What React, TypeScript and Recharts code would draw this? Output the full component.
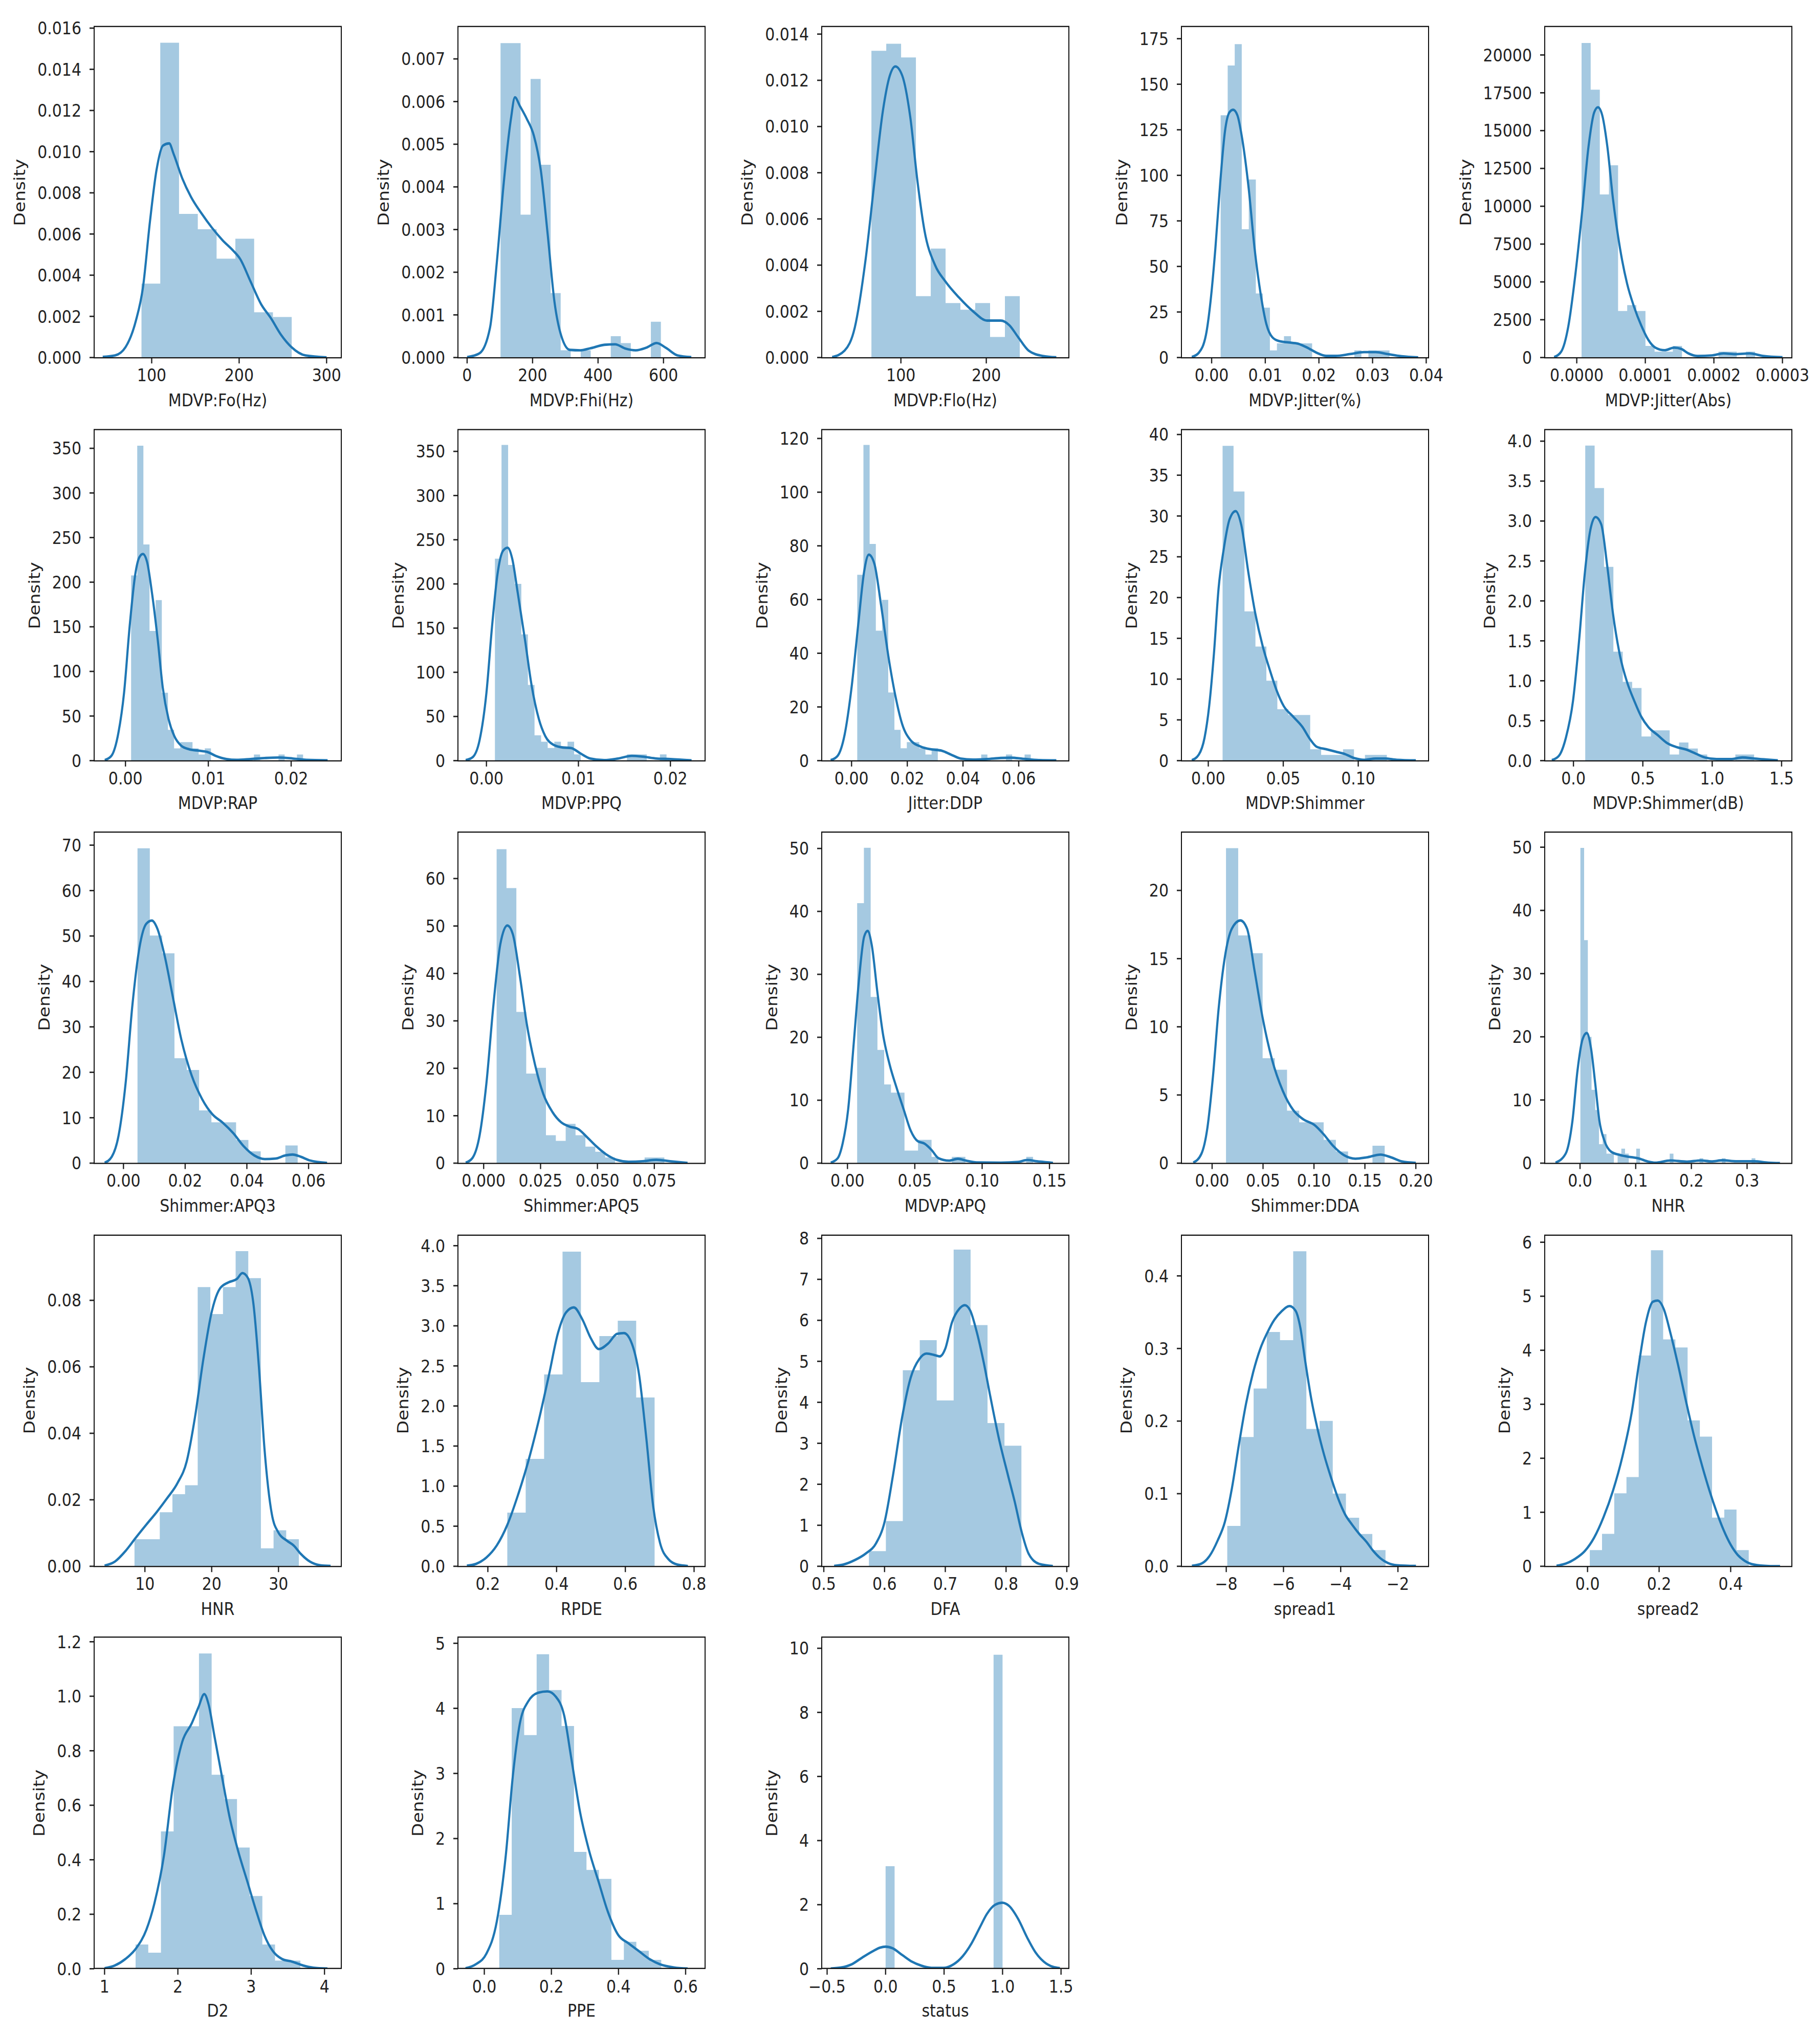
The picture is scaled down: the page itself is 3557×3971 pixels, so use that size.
import React from 'react';
import { ComposedChart, Area, Line, XAxis, YAxis } from 'recharts';

// the reference was stretched vertically; draw at 1/STRETCH height and scale back
const STRETCH = 1.15;
const FIG_W = 3557;
const FIG_H = 3971;
const FONT = '"DejaVu Sans", Verdana, sans-serif';
const BLUE = '#1f77b4';
const TEXT = '#222';

const COL_LEFT = [184, 895, 1606, 2309, 3019];
const ROW_TOP = [52, 840, 1626, 2414, 3200];
const PLOT_W = 483;
const PLOT_H = 647;

// ---- histogram heights (density per bin, equal-width bins between lo and hi) ----
const foBins = [0.00359, 0.01529, 0.00698, 0.00623, 0.0048, 0.00577, 0.0022, 0.00197];
const fhiBins = [0.00737, 0.00737, 0.00335, 0.00653, 0.00452, 0.00151, 0.00017, 0, 0.00017, 0, 0, 0.0005, 0.00034, 0, 0, 0.00084];
const floBins = [0.01328, 0.01358, 0.01299, 0.00266, 0.00472, 0.00236, 0.00207, 0.00236, 0.00089, 0.00266];
const jitBins = [133, 160.3, 172, 70.4, 97.7, 35.2, 27.4, 3.9, 7.8, 11.7, 7.8, 7.8, 7.8, 0, 0, 0, 0, 0, 0, 3.9, 0, 3.9, 3.9, 3.9];
const jitAbsBins = [20790, 17710, 10780, 12705, 3080, 3465, 3080, 770, 385, 385, 770, 0, 0, 0, 0, 385, 385, 0, 385];
const rapBins = [207.6, 352.9, 242.2, 145.3, 179.9, 76.1, 34.6, 13.8, 20.8, 20.8, 13.8, 6.9, 13.8, 0, 0, 0, 0, 0, 0, 0, 6.9, 0, 0, 0, 6.9, 0, 0, 6.9];
const ppqBins = [228.6, 357.3, 221.5, 200.1, 142.9, 85.7, 28.6, 21.4, 14.3, 21.4, 14.3, 21.4, 7.1, 0, 0, 0, 0, 0, 0, 0, 7.1, 7.1, 7.1, 0, 0, 7.1];
const ddpBins = [69.2, 117.6, 80.7, 48.4, 59.9, 25.4, 11.5, 4.6, 6.9, 6.9, 4.6, 2.3, 4.6, 0, 0, 0, 0, 0, 0, 0, 2.3, 0, 0, 0, 2.3, 0, 0, 2.3];
const shimBins = [38.6, 33.0, 18.3, 14.0, 9.8, 6.3, 5.6, 5.6, 1.4, 0.7, 0.7, 1.4, 0, 0.7, 0.7];
const dbBins = [3.944, 3.413, 2.427, 1.365, 0.986, 0.91, 0.303, 0.379, 0.379, 0.076, 0.228, 0.152, 0.076, 0, 0, 0, 0.076, 0.076];
const apq3Bins = [69.3, 50.1, 46.2, 23.1, 20.5, 11.6, 9.0, 9.0, 5.1, 2.6, 0, 0, 3.9];
const apq5Bins = [66.2, 58.0, 31.9, 18.9, 20.1, 5.9, 4.7, 8.3, 5.9, 3.5, 2.4, 1.2, 0, 0, 0, 1.2, 1.2];
const apqBins = [41.3, 50.1, 26.4, 18.0, 12.5, 11.2, 11.2, 2.0, 2.0, 3.7, 3.7, 1.0, 0, 0, 1.0, 1.0, 0, 0, 0, 0, 0, 0, 0, 0, 0, 1.0];
const ddaBins = [23.1, 16.7, 15.4, 7.7, 6.85, 3.85, 3.0, 3.0, 1.71, 0.86, 0, 0, 1.28];
const nhrBins = [
  49.9, 35.3, 20.0, 11.6, 8.4, 3.0, 4.6, 1.5, 1.5, 0, 1.5, 2.3, 1.5, 0, 0, 2.3,
  0, 0, 0, 0, 0, 0, 0, 0, 1.5, 0, 0, 0, 0, 0, 0, 0,
  0.77, 0, 0, 0, 0, 0, 0.77, 0, 0, 0, 0, 0, 0, 0, 0.77,
];
const hnrBins = [0.00813, 0.00813, 0.01625, 0.02167, 0.02438, 0.08398, 0.07585, 0.08398, 0.09482, 0.08669, 0.00542, 0.01084, 0.00813];
const rpdeBins = [0.67, 1.34, 2.393, 3.925, 2.298, 2.872, 3.063, 2.106];
const dfaBins = [0.368, 1.103, 4.781, 5.517, 4.046, 7.724, 5.885, 3.494, 2.942];
const spread1Bins = [0.0556, 0.178, 0.2448, 0.3227, 0.3115, 0.4339, 0.1891, 0.2003, 0.1001, 0.0668, 0.0445, 0.0223];
const spread2Bins = [0.3, 0.6, 1.351, 1.651, 3.902, 5.853, 4.202, 4.052, 2.701, 2.401, 0.9, 1.051, 0.3];
const d2Bins = [0.089, 0.059, 0.504, 0.89, 0.89, 1.157, 0.712, 0.623, 0.445, 0.267, 0.089, 0.03, 0.03];
const ppeBins = [0.828, 4.004, 3.59, 4.832, 4.28, 3.728, 1.795, 1.519, 1.381, 0.138, 0.414, 0.276, 0.138];
const statusBins = [3.2, 0, 0, 0, 0, 0, 0, 0, 0, 0, 0, 0, 9.8];

// ---- KDE curves, [x, density] ----
const foKde = [[44, 0.00003], [58, 0.0001], [70, 0.0005], [82, 0.0018], [90, 0.0034], [98, 0.0066], [105.5, 0.0091], [113, 0.0103], [120, 0.0104], [125, 0.0099], [135, 0.0087], [145, 0.0078], [157, 0.007], [169, 0.0063], [181, 0.0057], [193, 0.0052], [201, 0.0048], [213, 0.0037], [225, 0.0026], [236.5, 0.0019], [248, 0.0011], [260, 0.0005], [276, 0.0001], [300, 0.00001]];
const fhiKde = [[0, 0.00001], [38, 0.0001], [70, 0.0007], [91, 0.00225], [112, 0.0041], [134, 0.0056], [146, 0.0061], [161, 0.0059], [182, 0.0056], [204, 0.0052], [225, 0.0044], [246, 0.0029], [267, 0.0013], [288, 0.0005], [314, 0.00018], [346, 0.00017], [378, 0.00022], [420, 0.0003], [452, 0.00031], [484, 0.00021], [515, 0.00017], [547, 0.00023], [579, 0.00034], [607, 0.00023], [643, 0.00005], [685, 0.00001]];
const floKde = [[19.5, 0.00002], [34, 0.0003], [46, 0.0013], [58.5, 0.0042], [69, 0.0076], [79, 0.0107], [87, 0.0122], [93.5, 0.0126], [101.6, 0.0122], [111, 0.0104], [119.5, 0.0076], [127.6, 0.0055], [140, 0.004], [152, 0.0033], [168, 0.0026], [184.5, 0.002], [201, 0.0016], [217, 0.0016], [227, 0.0014], [237, 0.0009], [249.6, 0.0003], [266, 0.00007], [282, 0.00001]];
const jitKde = [[-0.0037, 0.3], [-0.0024, 2.6], [-0.00105, 12.6], [-0.0002, 31], [0.0007, 60], [0.0016, 96], [0.0025, 124.5], [0.0033, 134.5], [0.004, 136], [0.0048, 133], [0.0057, 120], [0.0069, 93], [0.008, 60], [0.0091, 35.6], [0.0102, 18.4], [0.0113, 11.2], [0.0126, 9], [0.0143, 8.3], [0.0161, 7.6], [0.0178, 5.5], [0.0196, 2.6], [0.0214, 0.9], [0.0231, 0.9], [0.0258, 1.9], [0.0284, 3], [0.0306, 3], [0.0328, 1.9], [0.0354, 0.7], [0.0385, 0.1]];
const jitAbsKde = [[-0.000033, 35], [-0.0000226, 397], [-0.0000124, 2038], [-0.000002, 5492], [0.0000082, 9810], [0.0000172, 13955], [0.0000254, 16200], [0.0000309, 16546], [0.0000371, 16028], [0.0000446, 13955], [0.0000528, 10500], [0.0000631, 7219], [0.0000734, 4888], [0.0000837, 3333], [0.000094, 2124], [0.0001043, 1174], [0.0001146, 656], [0.0001283, 484], [0.0001421, 656], [0.0001524, 570], [0.0001627, 276], [0.0001764, 104], [0.000197, 138], [0.000214, 276], [0.000231, 225], [0.000252, 276], [0.000272, 104], [0.0003, 17]];
const rapKde = [[-0.0025, 0.6], [-0.0017, 5.3], [-0.00084, 31.8], [-0.00017, 76], [0.0005, 150], [0.00118, 208.6], [0.00168, 228], [0.0021, 231.6], [0.0026, 223], [0.0032, 188], [0.0039, 135], [0.0045, 82], [0.0052, 46.6], [0.0059, 27.4], [0.0067, 17], [0.0077, 12.7], [0.0088, 11.2], [0.0099, 9.7], [0.0109, 5.3], [0.0122, 1.8], [0.0134, 0.9], [0.0151, 1.8], [0.0168, 2.9], [0.0185, 3.5], [0.0202, 2.4], [0.0218, 0.9], [0.0244, 0.3]];
const ppqKde = [[-0.00226, 0.6], [-0.0015, 3.9], [-0.00075, 23], [0, 77], [0.0006, 151], [0.0012, 211], [0.0018, 237.5], [0.0023, 241], [0.0028, 228.6], [0.0034, 190], [0.0042, 136], [0.0049, 85.7], [0.0057, 47], [0.0064, 27.7], [0.0073, 17.9], [0.0083, 14.9], [0.0092, 14.3], [0.0102, 8.3], [0.0113, 2.4], [0.0128, 0.6], [0.0143, 2.4], [0.0158, 5.4], [0.017, 4.5], [0.0185, 2.4], [0.02, 1.8], [0.0223, 0.3]];
const ddpKde = [[-0.0075, 0.2], [-0.005, 1.8], [-0.0025, 9.6], [0, 27.2], [0.0025, 51.7], [0.0045, 70.3], [0.0062, 76.7], [0.0082, 73.3], [0.0105, 58.6], [0.0132, 39], [0.0157, 24.3], [0.0182, 13.5], [0.0212, 7.6], [0.0249, 5.2], [0.0286, 4.2], [0.0324, 3.7], [0.0356, 2.3], [0.0391, 0.8], [0.0436, 0.4], [0.0486, 0.6], [0.0535, 1.0], [0.0573, 1.1], [0.0615, 0.7], [0.0672, 0.2], [0.0735, 0.1]];
const shimKde = [[-0.011, 0.06], [-0.0063, 0.74], [-0.0025, 2.8], [0.0006, 6.7], [0.0038, 13.2], [0.0069, 21.2], [0.0101, 25.7], [0.0142, 29.6], [0.0182, 30.6], [0.022, 28.9], [0.0267, 23.1], [0.0314, 18.0], [0.0362, 14.1], [0.0409, 11.2], [0.0456, 8.6], [0.0503, 6.7], [0.0566, 5.4], [0.0629, 4.1], [0.0676, 2.7], [0.0723, 1.7], [0.0786, 1.4], [0.0849, 1.1], [0.0912, 0.8], [0.0975, 0.3], [0.1038, 0.1], [0.1116, 0.26], [0.1179, 0.26], [0.1258, 0.1], [0.1384, 0.03]];
const dbKde = [[-0.156, 0.007], [-0.105, 0.06], [-0.054, 0.29], [-0.003, 0.75], [0.041, 1.51], [0.081, 2.33], [0.122, 2.89], [0.159, 3.05], [0.2, 2.96], [0.244, 2.43], [0.285, 1.84], [0.336, 1.31], [0.387, 0.98], [0.438, 0.75], [0.489, 0.55], [0.54, 0.42], [0.607, 0.32], [0.675, 0.22], [0.743, 0.17], [0.811, 0.14], [0.879, 0.09], [0.947, 0.04], [1.032, 0.02], [1.133, 0.02], [1.218, 0.04], [1.303, 0.026], [1.473, 0.003]];
const apq3Kde = [[-0.0061, 0.1], [-0.0038, 1.4], [-0.0016, 6], [0.0007, 17.6], [0.0029, 34.8], [0.0052, 47.5], [0.0074, 52.7], [0.0092, 53.4], [0.011, 51.6], [0.0133, 45.8], [0.016, 36.6], [0.0187, 27.4], [0.0221, 19.3], [0.0255, 14.1], [0.0289, 10.7], [0.0322, 8.9], [0.0356, 6.6], [0.039, 3.7], [0.0424, 1.7], [0.0458, 0.9], [0.0492, 1.0], [0.0525, 1.7], [0.0548, 1.9], [0.0575, 1.4], [0.0604, 0.6], [0.066, 0.06]];
const apq5Kde = [[-0.0079, 0.1], [-0.0049, 1.1], [-0.0018, 5.8], [0.0012, 16.8], [0.0043, 33.4], [0.0073, 46.1], [0.0104, 50.1], [0.0128, 48.3], [0.0159, 39.5], [0.0189, 29.5], [0.0226, 20.7], [0.0262, 14.6], [0.0302, 10.8], [0.0341, 8.6], [0.0378, 7.7], [0.0415, 7.2], [0.0454, 5.5], [0.0494, 3.6], [0.0537, 1.9], [0.0585, 0.7], [0.0637, 0.3], [0.0698, 0.4], [0.0759, 0.7], [0.082, 0.4], [0.0896, 0.05]];
const apqKde = [[-0.0124, 0.08], [-0.0072, 0.8], [-0.0036, 3.1], [0.0005, 8.5], [0.0046, 18.9], [0.0088, 29.7], [0.0124, 36], [0.015, 36.9], [0.018, 34.7], [0.0222, 27.2], [0.0263, 20.6], [0.0314, 15.6], [0.0366, 11.9], [0.0418, 8.5], [0.0469, 5.2], [0.0521, 3.5], [0.0572, 3.1], [0.0624, 2.1], [0.0675, 0.8], [0.0753, 0.4], [0.082, 0.7], [0.0881, 0.4], [0.0959, 0.12], [0.1139, 0.08], [0.1268, 0.2], [0.1335, 0.5], [0.1407, 0.3], [0.1526, 0.04]];
const ddaKde = [[-0.0185, 0.04], [-0.0106, 0.67], [-0.0046, 2.6], [0.0009, 6.4], [0.0065, 11.4], [0.0125, 15.1], [0.0194, 17.2], [0.0278, 17.8], [0.0343, 17.2], [0.0417, 14.1], [0.0495, 10.7], [0.0588, 7.6], [0.0694, 5.3], [0.0796, 3.9], [0.0898, 3.2], [0.1005, 2.8], [0.1097, 2.1], [0.119, 1.25], [0.1296, 0.58], [0.1407, 0.33], [0.1514, 0.42], [0.1653, 0.63], [0.1759, 0.42], [0.1861, 0.13], [0.2, 0.02]];
const nhrKde = [[-0.044, 0.07], [-0.0258, 1.5], [-0.0136, 6.7], [-0.0045, 14.7], [0.0045, 19.6], [0.0121, 20.6], [0.0197, 18.2], [0.0273, 12.6], [0.0348, 6.7], [0.044, 3.5], [0.056, 1.8], [0.0712, 1.3], [0.0924, 0.94], [0.1045, 0.77], [0.1227, 0.24], [0.1348, 0.07], [0.162, 0.42], [0.192, 0.24], [0.2167, 0.42], [0.236, 0.28], [0.256, 0.45], [0.28, 0.3], [0.3128, 0.3], [0.338, 0.08], [0.359, 0.01]];
const hnrKde = [[3.96, 0.0002], [5.5, 0.0014], [7.1, 0.0046], [8.6, 0.0085], [10.2, 0.0125], [11.8, 0.0164], [13.3, 0.0204], [14.9, 0.0251], [16.25, 0.0315], [17.5, 0.0449], [18.75, 0.0623], [20, 0.0765], [21.25, 0.0836], [22.5, 0.0854], [23.75, 0.0864], [24.6, 0.0882], [25.4, 0.0868], [26.25, 0.0789], [27.1, 0.0591], [27.9, 0.0354], [29, 0.0157], [30, 0.0101], [31.25, 0.0077], [32.3, 0.0062], [33.3, 0.0038], [34.7, 0.0014], [36.25, 0.0003], [37.8, 0.0001]];
const rpdeKde = [[0.139, 0.007], [0.166, 0.03], [0.196, 0.11], [0.226, 0.26], [0.257, 0.52], [0.287, 0.88], [0.317, 1.3], [0.347, 1.8], [0.378, 2.39], [0.404, 2.91], [0.428, 3.17], [0.45, 3.23], [0.475, 3.08], [0.499, 2.85], [0.523, 2.71], [0.55, 2.78], [0.576, 2.9], [0.596, 2.91], [0.616, 2.81], [0.64, 2.39], [0.661, 1.6], [0.681, 0.75], [0.701, 0.29], [0.725, 0.09], [0.752, 0.02], [0.782, 0.003]];
const dfaKde = [[0.517, 0.01], [0.534, 0.05], [0.551, 0.15], [0.569, 0.31], [0.586, 0.56], [0.6, 1.08], [0.614, 2.23], [0.629, 3.64], [0.643, 4.6], [0.657, 5.05], [0.669, 5.19], [0.683, 5.15], [0.691, 5.12], [0.7, 5.31], [0.711, 5.95], [0.723, 6.28], [0.732, 6.37], [0.741, 6.24], [0.751, 5.76], [0.763, 4.99], [0.774, 4.15], [0.788, 3.13], [0.803, 2.23], [0.814, 1.59], [0.826, 0.82], [0.837, 0.31], [0.854, 0.06], [0.877, 0.006]];
const spread1Kde = [[-9.2, 0.0007], [-8.87, 0.0036], [-8.59, 0.0138], [-8.3, 0.0355], [-8.05, 0.0608], [-7.8, 0.1079], [-7.55, 0.1694], [-7.31, 0.2237], [-7.06, 0.2672], [-6.81, 0.2997], [-6.57, 0.3214], [-6.32, 0.3395], [-6.07, 0.3511], [-5.79, 0.3584], [-5.58, 0.3522], [-5.41, 0.3287], [-5.25, 0.2852], [-5.03, 0.2309], [-4.8, 0.1875], [-4.59, 0.1549], [-4.34, 0.1224], [-4.09, 0.0934], [-3.85, 0.0717], [-3.6, 0.0572], [-3.35, 0.0445], [-3.1, 0.0337], [-2.86, 0.021], [-2.61, 0.0109], [-2.36, 0.0047], [-2.03, 0.0014], [-1.37, 0.0004]];
const spread2Kde = [[-0.0868, 0.01], [-0.0605, 0.05], [-0.0342, 0.14], [-0.0079, 0.28], [0.0184, 0.53], [0.0447, 0.91], [0.0711, 1.4], [0.0974, 2.03], [0.1237, 2.86], [0.1434, 3.74], [0.1632, 4.52], [0.1829, 4.9], [0.1961, 4.92], [0.2132, 4.76], [0.2316, 4.32], [0.2526, 3.74], [0.275, 3.06], [0.2974, 2.42], [0.3211, 1.84], [0.3408, 1.4], [0.3605, 1.01], [0.3803, 0.67], [0.4, 0.4], [0.4197, 0.21], [0.4395, 0.1], [0.4658, 0.03], [0.5053, 0.005], [0.538, 0.001]];
const d2Kde = [[1.0, 0.002], [1.14, 0.012], [1.285, 0.036], [1.43, 0.075], [1.57, 0.143], [1.68, 0.24], [1.81, 0.415], [1.93, 0.667], [2.06, 0.833], [2.19, 0.901], [2.28, 0.959], [2.36, 1.008], [2.42, 0.969], [2.5, 0.852], [2.6, 0.707], [2.71, 0.551], [2.82, 0.434], [2.95, 0.318], [3.07, 0.211], [3.18, 0.123], [3.31, 0.06], [3.42, 0.036], [3.56, 0.026], [3.71, 0.012], [3.85, 0.004], [4.04, 0.001]];
const ppeKde = [[-0.056, 0.008], [-0.025, 0.07], [0.006, 0.23], [0.037, 0.72], [0.064, 1.74], [0.085, 2.96], [0.106, 3.77], [0.13, 4.1], [0.161, 4.24], [0.188, 4.26], [0.213, 4.18], [0.238, 3.89], [0.259, 3.24], [0.286, 2.39], [0.312, 1.82], [0.341, 1.33], [0.368, 0.88], [0.399, 0.52], [0.43, 0.39], [0.461, 0.27], [0.492, 0.15], [0.523, 0.07], [0.565, 0.02], [0.606, 0.004]];
const statusKde = [[-0.469, 0.01], [-0.38, 0.04], [-0.29, 0.14], [-0.2, 0.35], [-0.113, 0.54], [-0.047, 0.66], [0, 0.69], [0.059, 0.64], [0.142, 0.43], [0.226, 0.22], [0.303, 0.1], [0.392, 0.03], [0.499, 0.03], [0.582, 0.14], [0.659, 0.39], [0.736, 0.8], [0.807, 1.3], [0.866, 1.71], [0.938, 2.0], [0.997, 2.06], [1.056, 1.96], [1.134, 1.55], [1.211, 0.97], [1.282, 0.51], [1.353, 0.22], [1.43, 0.06], [1.49, 0.02]];

// ---- axis tick values ----
const foXTicks = [100, 200, 300];
const fhiXTicks = [0, 200, 400, 600];
const floXTicks = [100, 200];
const jitXTicks = [0, 0.01, 0.02, 0.03, 0.04];
const jitAbsXTicks = [0, 0.0001, 0.0002, 0.0003];
const rapXTicks = [0, 0.01, 0.02];
const ddpXTicks = [0, 0.02, 0.04, 0.06];
const shimXTicks = [0, 0.05, 0.1];
const dbXTicks = [0, 0.5, 1.0, 1.5];
const apq5XTicks = [0, 0.025, 0.05, 0.075];
const apqXTicks = [0, 0.05, 0.1, 0.15];
const ddaXTicks = [0, 0.05, 0.1, 0.15, 0.2];
const nhrXTicks = [0, 0.1, 0.2, 0.3];
const hnrXTicks = [10, 20, 30];
const rpdeXTicks = [0.2, 0.4, 0.6, 0.8];
const dfaXTicks = [0.5, 0.6, 0.7, 0.8, 0.9];
const spread1XTicks = [-8, -6, -4, -2];
const spread2XTicks = [0, 0.2, 0.4];
const d2XTicks = [1, 2, 3, 4];
const ppeXTicks = [0, 0.2, 0.4, 0.6];
const statusXTicks = [-0.5, 0, 0.5, 1.0, 1.5];

const foYTicks = [0, 0.002, 0.004, 0.006, 0.008, 0.01, 0.012, 0.014, 0.016];
const fhiYTicks = [0, 0.001, 0.002, 0.003, 0.004, 0.005, 0.006, 0.007];
const floYTicks = [0, 0.002, 0.004, 0.006, 0.008, 0.01, 0.012, 0.014];
const jitYTicks = [0, 25, 50, 75, 100, 125, 150, 175];
const jitAbsYTicks = [0, 2500, 5000, 7500, 10000, 12500, 15000, 17500, 20000];
const rapYTicks = [0, 50, 100, 150, 200, 250, 300, 350];
const ddpYTicks = [0, 20, 40, 60, 80, 100, 120];
const shimYTicks = [0, 5, 10, 15, 20, 25, 30, 35, 40];
const halfToFour = [0, 0.5, 1.0, 1.5, 2.0, 2.5, 3.0, 3.5, 4.0];
const tenToSeventy = [0, 10, 20, 30, 40, 50, 60, 70];
const tenToSixty = [0, 10, 20, 30, 40, 50, 60];
const tenToFifty = [0, 10, 20, 30, 40, 50];
const ddaYTicks = [0, 5, 10, 15, 20];
const hnrYTicks = [0, 0.02, 0.04, 0.06, 0.08];
const dfaYTicks = [0, 1, 2, 3, 4, 5, 6, 7, 8];
const spread1YTicks = [0, 0.1, 0.2, 0.3, 0.4];
const spread2YTicks = [0, 1, 2, 3, 4, 5, 6];
const d2YTicks = [0, 0.2, 0.4, 0.6, 0.8, 1.0, 1.2];
const ppeYTicks = [0, 1, 2, 3, 4, 5];
const statusYTicks = [0, 2, 4, 6, 8, 10];

type Panel = {
  label: string;
  xDomain: [number, number];
  xTicks: number[];
  xDec: number;
  yMax: number;
  yTicks: number[];
  yDec: number;
  lo: number;
  hi: number;
  bins: number[];
  kde: number[][];
};

const panels: Panel[] = [
  { label: 'MDVP:Fo(Hz)', xDomain: [34.2, 316.8], xTicks: foXTicks, xDec: 0, yMax: 0.01608, yTicks: foYTicks, yDec: 3, lo: 88.33, hi: 260.11, bins: foBins, kde: foKde },
  { label: 'MDVP:Fhi(Hz)', xDomain: [-28, 727], xTicks: fhiXTicks, xDec: 0, yMax: 0.00776, yTicks: fhiYTicks, yDec: 3, lo: 102.15, hi: 592.03, bins: fhiBins, kde: fhiKde },
  { label: 'MDVP:Flo(Hz)', xDomain: [7.3, 296.7], xTicks: floXTicks, xDec: 0, yMax: 0.01433, yTicks: floYTicks, yDec: 3, lo: 65.48, hi: 239.17, bins: floBins, kde: floKde },
  { label: 'MDVP:Jitter(%)', xDomain: [-0.00563, 0.04044], xTicks: jitXTicks, xDec: 2, yMax: 181.7, yTicks: jitYTicks, yDec: 0, lo: 0.00168, hi: 0.03316, bins: jitBins, kde: jitKde },
  { label: 'MDVP:Jitter(Abs)', xDomain: [-0.0000467, 0.0003137], xTicks: jitAbsXTicks, xDec: 4, yMax: 21883, yTicks: jitAbsYTicks, yDec: 0, lo: 0.000007, hi: 0.00026, bins: jitAbsBins, kde: jitAbsKde },
  { label: 'MDVP:RAP', xDomain: [-0.00378, 0.02605], xTicks: rapXTicks, xDec: 2, yMax: 371, yTicks: rapYTicks, yDec: 0, lo: 0.00068, hi: 0.02144, bins: rapBins, kde: rapKde },
  { label: 'MDVP:PPQ', xDomain: [-0.0031, 0.02377], xTicks: rapXTicks, xDec: 2, yMax: 374.7, yTicks: rapYTicks, yDec: 0, lo: 0.00092, hi: 0.01958, bins: ppqBins, kde: ppqKde },
  { label: 'Jitter:DDP', xDomain: [-0.0107, 0.078], xTicks: ddpXTicks, xDec: 2, yMax: 123.3, yTicks: ddpYTicks, yDec: 0, lo: 0.00204, hi: 0.06433, bins: ddpBins, kde: ddpKde },
  { label: 'MDVP:Shimmer', xDomain: [-0.0179, 0.1469], xTicks: shimXTicks, xDec: 2, yMax: 40.6, yTicks: shimYTicks, yDec: 0, lo: 0.00954, hi: 0.11908, bins: shimBins, kde: shimKde },
  { label: 'MDVP:Shimmer(dB)', xDomain: [-0.207, 1.574], xTicks: dbXTicks, xDec: 1, yMax: 4.145, yTicks: halfToFour, yDec: 1, lo: 0.085, hi: 1.302, bins: dbBins, kde: dbKde },
  { label: 'Shimmer:APQ3', xDomain: [-0.0095, 0.0706], xTicks: ddpXTicks, xDec: 2, yMax: 72.87, yTicks: tenToSeventy, yDec: 0, lo: 0.00455, hi: 0.05647, bins: apq3Bins, kde: apq3Kde },
  { label: 'Shimmer:APQ5', xDomain: [-0.0113, 0.0973], xTicks: apq5XTicks, xDec: 3, yMax: 69.8, yTicks: tenToSixty, yDec: 0, lo: 0.0057, hi: 0.0794, bins: apq5Bins, kde: apq5Kde },
  { label: 'MDVP:APQ', xDomain: [-0.0191, 0.1644], xTicks: apqXTicks, xDec: 2, yMax: 52.6, yTicks: tenToFifty, yDec: 0, lo: 0.00719, hi: 0.13778, bins: apqBins, kde: apqKde },
  { label: 'Shimmer:DDA', xDomain: [-0.0301, 0.2125], xTicks: ddaXTicks, xDec: 2, yMax: 24.28, yTicks: ddaYTicks, yDec: 0, lo: 0.01364, hi: 0.16942, bins: ddaBins, kde: ddaKde },
  { label: 'NHR', xDomain: [-0.0634, 0.3804], xTicks: nhrXTicks, xDec: 1, yMax: 52.4, yTicks: tenToFifty, yDec: 0, lo: 0.00065, hi: 0.31482, bins: nhrBins, kde: nhrKde },
  { label: 'HNR', xDomain: [2.4, 39.4], xTicks: hnrXTicks, xDec: 0, yMax: 0.0996, yTicks: hnrYTicks, yDec: 2, lo: 8.441, hi: 33.047, bins: hnrBins, kde: hnrKde },
  { label: 'RPDE', xDomain: [0.113, 0.832], xTicks: rpdeXTicks, xDec: 1, yMax: 4.131, yTicks: halfToFour, yDec: 1, lo: 0.25657, hi: 0.685151, bins: rpdeBins, kde: rpdeKde },
  { label: 'DFA', xDomain: [0.4966, 0.9034], xTicks: dfaXTicks, xDec: 1, yMax: 8.077, yTicks: dfaYTicks, yDec: 0, lo: 0.574282, hi: 0.825288, bins: dfaBins, kde: dfaKde },
  { label: 'spread1', xDomain: [-9.566, -0.929], xTicks: spread1XTicks, xDec: 0, yMax: 0.4561, yTicks: spread1YTicks, yDec: 1, lo: -7.964984, hi: -2.434031, bins: spread1Bins, kde: spread1Kde },
  { label: 'spread2', xDomain: [-0.1197, 0.571], xTicks: spread2XTicks, xDec: 1, yMax: 6.131, yTicks: spread2YTicks, yDec: 0, lo: 0.006274, hi: 0.450493, bins: spread2Bins, kde: spread2Kde },
  { label: 'D2', xDomain: [0.858, 4.229], xTicks: d2XTicks, xDec: 0, yMax: 1.2148, yTicks: d2YTicks, yDec: 1, lo: 1.423287, hi: 3.671155, bins: d2Bins, kde: d2Kde },
  { label: 'PPE', xDomain: [-0.0786, 0.658], xTicks: ppeXTicks, xDec: 1, yMax: 5.085, yTicks: ppeYTicks, yDec: 0, lo: 0.044539, hi: 0.527367, bins: ppeBins, kde: ppeKde },
  { label: 'status', xDomain: [-0.546, 1.567], xTicks: statusXTicks, xDec: 1, yMax: 10.33, yTicks: statusYTicks, yDec: 0, lo: 0, hi: 1, bins: statusBins, kde: statusKde },
];

const fmt = (v: number, dec: number) => {
  const s = Math.abs(v).toFixed(dec);
  return (v < -1e-12 ? '\u2212' : '') + s;
};

// rough DejaVu Sans advance widths, used to place the y label left of the tick labels
const labelWidth = (s: string, size: number) => {
  let w = 0;
  for (const ch of s) w += ch === '.' ? 0.318 : ch === '\u2212' ? 0.838 : 0.636;
  return w * size;
};

// merge bin edges and KDE points into one table for the chart
function buildRows(p: Panel) {
  const n = p.bins.length;
  const w = (p.hi - p.lo) / n;
  const stepAt = (x: number) => {
    if (x < p.lo || x > p.hi) return null;
    return p.bins[Math.min(n - 1, Math.floor((x - p.lo) / w))];
  };
  const rows: { x: number; h: number | null; k: number | null }[] = [];
  for (let i = 0; i <= n; i++) rows.push({ x: i === n ? p.hi : p.lo + i * w, h: p.bins[Math.min(i, n - 1)], k: null });
  for (const [x, y] of p.kde) rows.push({ x, h: stepAt(x), k: y });
  rows.sort((a, b) => a.x - b.x);
  return rows;
}

const FS = 30;
const ML = 230;
const MT = 30;
const MR = 90;
const MB = 70;

function DistPanel({ p, idx }: { p: Panel; idx: number }) {
  const col = idx % 5;
  const row = Math.floor(idx / 5);
  const L = COL_LEFT[col];
  const T = ROW_TOP[row] / STRETCH;
  const H = PLOT_H / STRETCH;
  const rows = buildRows(p);
  const tickW = Math.max(...p.yTicks.map((t) => labelWidth(fmt(t, p.yDec), FS)));
  const yLabelX = L - 56 - tickW;
  const tickStyle = { fontSize: FS, fill: TEXT, fontFamily: FONT };

  return (
    <>
      <div style={{ position: 'absolute', left: L - ML, top: T - MT }}>
        <ComposedChart
          width={ML + PLOT_W + MR}
          height={MT + H + MB}
          data={rows}
          margin={{ top: MT, right: MR, bottom: 0, left: 0 }}
        >
          <XAxis
            type="number"
            dataKey="x"
            domain={p.xDomain}
            ticks={p.xTicks}
            allowDataOverflow
            interval={0}
            height={MB}
            axisLine={false}
            tickSize={10}
            tickMargin={9}
            tickLine={{ stroke: TEXT, strokeWidth: 2.4 }}
            tick={tickStyle}
            tickFormatter={(v: number) => fmt(v, p.xDec)}
          />
          <YAxis
            type="number"
            domain={[0, p.yMax]}
            ticks={p.yTicks}
            allowDataOverflow
            interval={0}
            width={ML}
            axisLine={false}
            tickSize={9}
            tickMargin={16}
            tickLine={{ stroke: TEXT, strokeWidth: 2.4 }}
            tick={tickStyle}
            tickFormatter={(v: number) => fmt(v, p.yDec)}
          />
          <Area
            dataKey="h"
            type="stepAfter"
            fill={BLUE}
            fillOpacity={0.4}
            stroke="none"
            dot={false}
            activeDot={false}
            isAnimationActive={false}
          />
          <Line
            dataKey="k"
            type="monotone"
            stroke={BLUE}
            strokeWidth={4.2}
            dot={false}
            activeDot={false}
            connectNulls
            isAnimationActive={false}
          />
        </ComposedChart>
      </div>
      {/* axes frame, all four spines */}
      <div
        style={{
          position: 'absolute',
          left: L - 1.2,
          top: T - 1.2,
          width: PLOT_W + 2.4,
          height: H + 2.4,
          border: '2.4px solid #111',
          boxSizing: 'border-box',
          pointerEvents: 'none',
        }}
      />
      <div
        style={{
          position: 'absolute',
          left: L + PLOT_W / 2 - 200,
          top: T + H + 57,
          width: 400,
          textAlign: 'center',
          fontFamily: FONT,
          fontSize: FS,
          lineHeight: '30px',
          color: TEXT,
          whiteSpace: 'nowrap',
        }}
      >
        {p.label}
      </div>
      <div
        style={{
          position: 'absolute',
          left: yLabelX - 150 - 3,
          top: T + H / 2 - 15,
          width: 300,
          height: 30,
          textAlign: 'center',
          fontFamily: FONT,
          fontSize: FS,
          lineHeight: '30px',
          color: TEXT,
          transform: 'rotate(-90deg)',
        }}
      >
        Density
      </div>
    </>
  );
}

export default function App() {
  return (
    <div style={{ position: 'absolute', left: 0, top: 0, width: FIG_W, height: FIG_H, background: '#fff', overflow: 'hidden' }}>
      <div
        style={{
          position: 'relative',
          width: FIG_W,
          height: FIG_H / STRETCH,
          transform: `scaleY(${STRETCH})`,
          transformOrigin: '0 0',
        }}
      >
        {panels.map((p, i) => (
          <DistPanel key={p.label} p={p} idx={i} />
        ))}
      </div>
    </div>
  );
}
